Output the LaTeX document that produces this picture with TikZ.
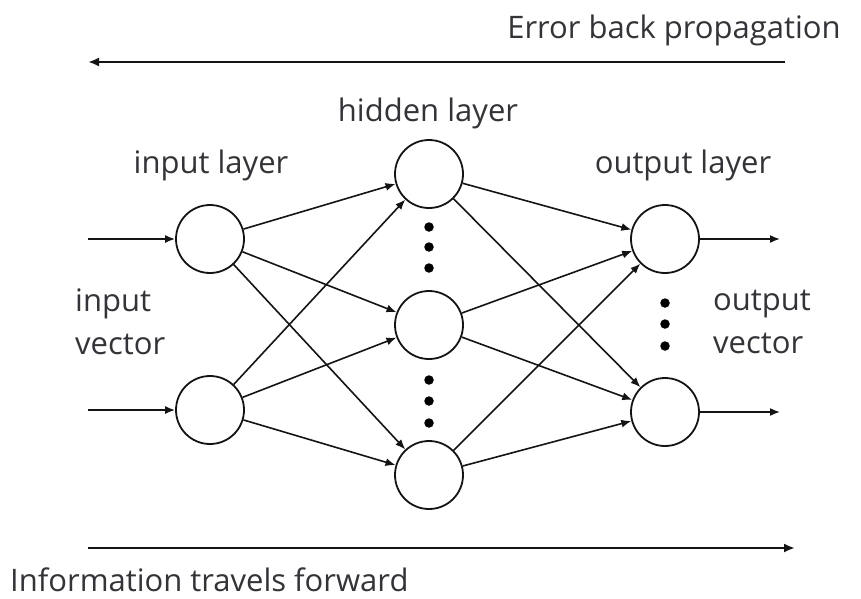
\documentclass[tikz,border=0pt]{standalone}
\usepackage{fontspec}
\setmainfont{Open Sans}
\usetikzlibrary{arrows.meta}
\definecolor{txtcol}{RGB}{51,51,56}
\definecolor{linecol}{RGB}{20,20,20}
\begin{document}
\begin{tikzpicture}[x=1pt,y=-1pt,
  neuron/.style={circle,draw=linecol,line width=1.8pt,minimum size=68pt,inner sep=0pt},
  conn/.style={draw=linecol,line width=1.6pt,-{Latex[length=10pt,width=8pt]}},
  bigarrow/.style={draw=linecol,line width=2.2pt,-{Latex[length=11pt,width=9pt]}},
  lbl/.style={font=\fontsize{31}{43}\selectfont,text=txtcol,inner sep=0pt},
  blob/.style={circle,fill=black,minimum size=9.5pt,inner sep=0pt}]
\useasboundingbox (0,0) rectangle (861,598);
\fill[white] (0,0) rectangle (861,598);
% neurons
\node[neuron] (i1) at (210,239) {};
\node[neuron] (i2) at (210,410) {};
\node[neuron] (h1) at (429,174) {};
\node[neuron] (h2) at (429,325) {};
\node[neuron] (h3) at (429,475) {};
\node[neuron] (o1) at (665,239) {};
\node[neuron] (o2) at (665,412) {};
% free ends
\coordinate (in1) at (88,239);
\coordinate (in2) at (88,410);
\coordinate (out1) at (780,239);
\coordinate (out2) at (780,412);
\coordinate (ebs) at (785,62);
\coordinate (ebe) at (88,62);
\coordinate (fws) at (88,548);
\coordinate (fwe) at (795,548);
% connections
\draw[conn] (in1) -- (i1);
\draw[conn] (in2) -- (i2);
\foreach \a in {i1,i2}{\foreach \b in {h1,h2,h3}{\draw[conn] (\a) -- (\b);}}
\foreach \a in {h1,h2,h3}{\foreach \b in {o1,o2}{\draw[conn] (\a) -- (\b);}}
\draw[conn] (o1) -- (out1);
\draw[conn] (o2) -- (out2);
\draw[bigarrow] (ebs) -- (ebe);
\draw[bigarrow] (fws) -- (fwe);
% dots
\foreach \y [count=\k] in {227,247,268,380,401,423}{\node[blob] (hd\k) at (429,\y) {};}
\foreach \y [count=\k] in {303,324,346}{\node[blob] (od\k) at (665,\y) {};}
% labels
\node[lbl] (teb) at (674,30) {Error back propagation};
\node[lbl] (thid) at (428,113) {hidden layer};
\node[lbl] (tin) at (211,165) {input layer};
\node[lbl] (tout) at (683,165) {output layer};
\node[lbl,anchor=west,align=left] (tiv) at (75,322) {input\\vector};
\node[lbl,anchor=west,align=left] (tov) at (713,322) {output\\vector};
\node[lbl,anchor=west] (tif) at (10,580) {Information travels forward};
\end{tikzpicture}
\end{document}
